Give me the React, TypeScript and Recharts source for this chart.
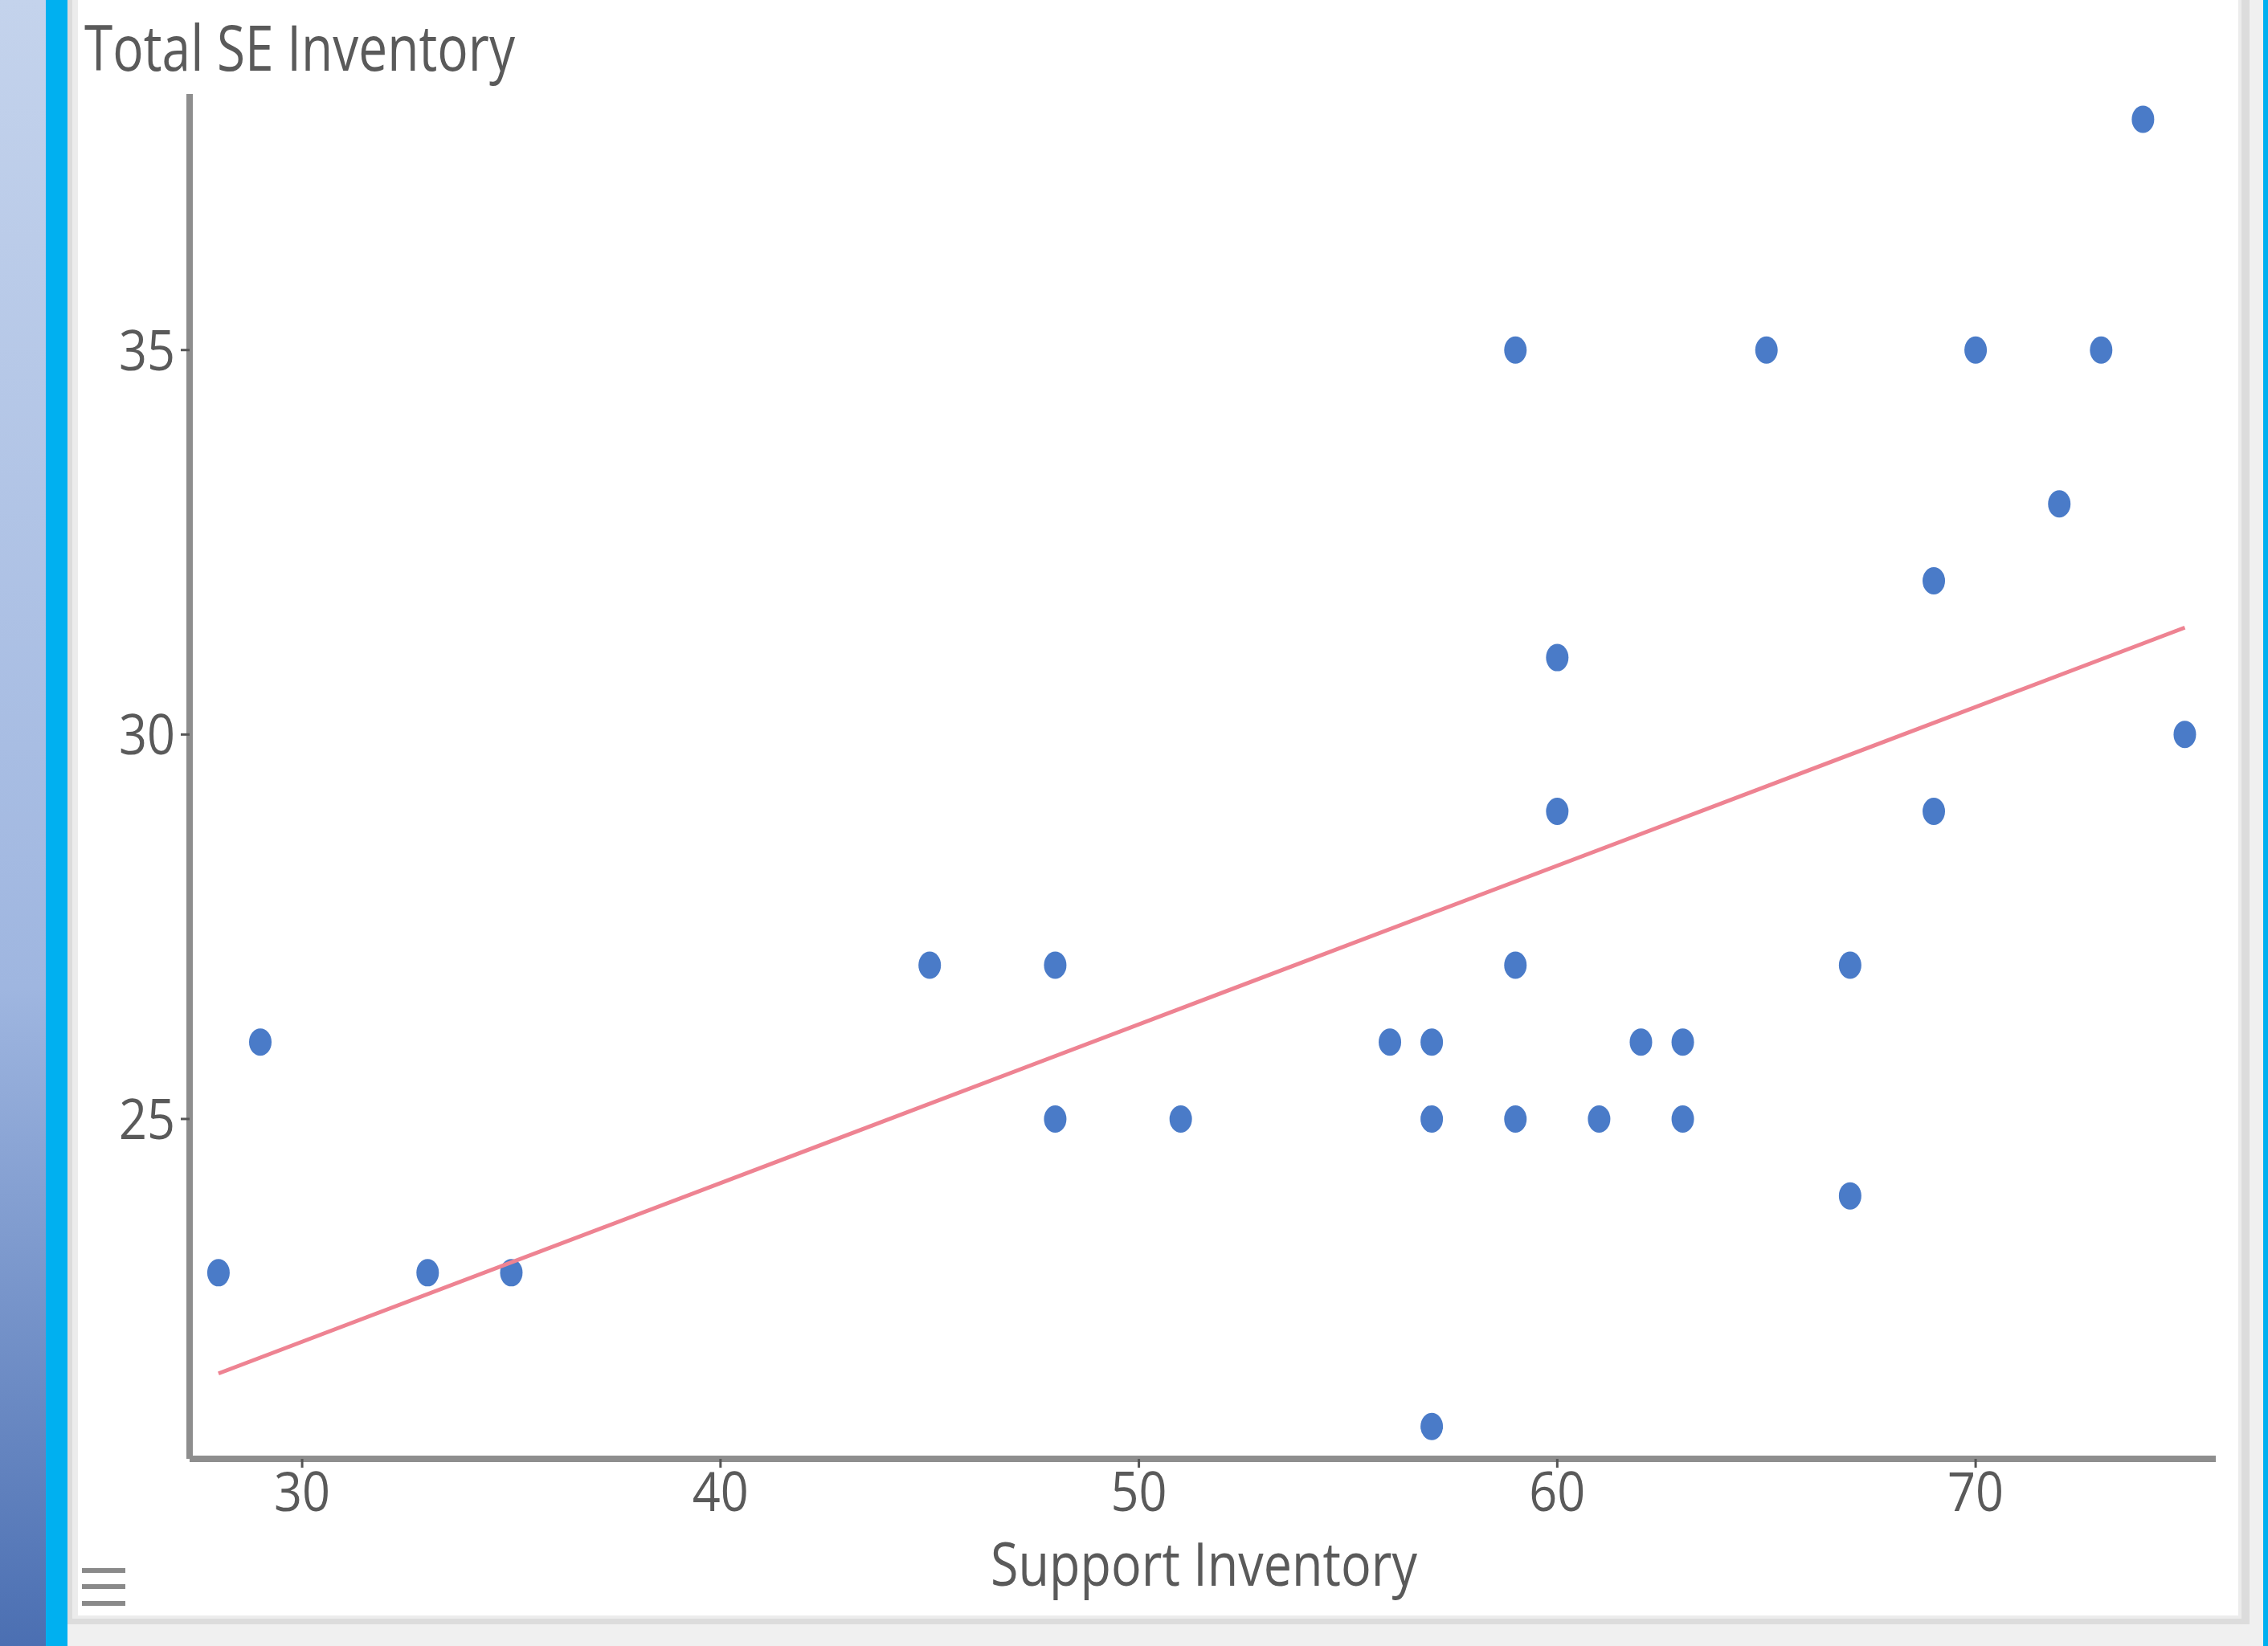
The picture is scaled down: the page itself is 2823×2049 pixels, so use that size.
import React from 'react'
import { ScatterChart, Scatter, XAxis, YAxis } from 'recharts'

// values
const supportInventory = [28, 29, 33, 35, 45, 48, 48, 51, 56, 57, 57, 57, 59, 59, 59, 60, 60, 61, 62, 63, 63, 65, 67, 67, 69, 69, 70, 72, 73, 74, 75]
const seInventory = [23, 26, 23, 23, 27, 27, 25, 25, 26, 26, 25, 21, 35, 27, 25, 31, 29, 25, 26, 26, 25, 35, 27, 24, 32, 29, 35, 33, 35, 38, 30]
const trendX = [28, 75]
const trendY = [21.69, 31.39]
const xTicks = [30, 40, 50, 60, 70]
const yTicks = [25, 30, 35]

const points = supportInventory.map((x, i) => ({ x, y: seInventory[i] }))
const trend = trendX.map((x, i) => ({ x, y: trendY[i] }))

const FONT = '"Open Sans", "Noto Sans", sans-serif'
const TEXT = '#5a5a5a'
const AXIS = '#8e8e8e'

const Dot = (props: any) => (
  <ellipse cx={props.cx} cy={props.cy} rx={14} ry={17} fill="#4a7bc8" />
)

const NoDot = () => <g />

const XTick = (props: any) => (
  <text x={props.x} y={props.y} dy={52} textAnchor="middle" fontFamily={FONT} fontSize={68}
    fill={TEXT} textLength={70} lengthAdjust="spacingAndGlyphs">
    {props.payload.value}
  </text>
)

const YTick = (props: any) => (
  <text x={props.x} y={props.y} dy={25} textAnchor="end" fontFamily={FONT} fontSize={70}
    fill={TEXT} textLength={70} lengthAdjust="spacingAndGlyphs">
    {props.payload.value}
  </text>
)

export default function App() {
  return (
    <div style={{ position: 'absolute', left: 0, top: 0, width: 2823, height: 2049, background: '#f0f0f0', overflow: 'hidden' }}>
      {/* left window chrome */}
      <div style={{ position: 'absolute', left: 0, top: 0, width: 57, height: 2049, background: 'linear-gradient(#c4d3ec, #9fb6e0 60%, #4b6fb2)' }} />
      <div style={{ position: 'absolute', left: 57, top: 0, width: 27, height: 2049, background: '#00b0f0' }} />
      <div style={{ position: 'absolute', left: 2817, top: 0, width: 6, height: 2049, background: '#00b0f0' }} />
      <div style={{ position: 'absolute', left: 84, top: 0, width: 2716, height: 2022, background: '#dcdcdc' }} />
      <div style={{ position: 'absolute', left: 90, top: 0, width: 2700, height: 2015, background: '#ececec' }} />
      <div style={{ position: 'absolute', left: 97, top: 0, width: 2689, height: 2011, background: '#ffffff' }} />

      <div style={{ position: 'absolute', left: 0, top: 0 }}>
        <ScatterChart width={2823} height={2049} margin={{ top: 117, right: 65, bottom: 133, left: 0 }}>
          <XAxis
            type="number"
            dataKey="x"
            domain={[27.31, 75.74]}
            ticks={xTicks}
            allowDataOverflow
            height={100}
            axisLine={{ stroke: AXIS, strokeWidth: 8 }}
            tickLine={{ stroke: '#555', strokeWidth: 3 }}
            tickSize={11}
            tickMargin={2}
            tick={<XTick />}
            label={{
              content: () => (
                <text x={1233} y={1974} fontFamily={FONT} fontSize={75} fill={TEXT}
                  textLength={531} lengthAdjust="spacingAndGlyphs">Support Inventory</text>
              ),
            }}
          />
          <YAxis
            type="number"
            dataKey="y"
            domain={[20.58, 38.33]}
            ticks={yTicks}
            allowDataOverflow
            width={236}
            axisLine={{ stroke: AXIS, strokeWidth: 8 }}
            tickLine={{ stroke: '#555', strokeWidth: 3 }}
            tickSize={11}
            tickMargin={7}
            tick={<YTick />}
            label={{
              content: () => (
                <text x={105} y={88} fontFamily={FONT} fontSize={78} fill={TEXT}
                  textLength={536} lengthAdjust="spacingAndGlyphs">Total SE Inventory</text>
              ),
            }}
          />
          <Scatter data={points} shape={<Dot />} isAnimationActive={false} />
          <Scatter
            data={trend}
            line={{ stroke: '#ee8392', strokeWidth: 5 }}
            shape={<NoDot />}
            isAnimationActive={false}
          />
        </ScatterChart>
      </div>

      {/* menu icon */}
      <div style={{ position: 'absolute', left: 102, top: 1952, width: 54, height: 6, background: '#8a8a8a' }} />
      <div style={{ position: 'absolute', left: 102, top: 1972, width: 54, height: 6, background: '#8a8a8a' }} />
      <div style={{ position: 'absolute', left: 102, top: 1993, width: 54, height: 6, background: '#8a8a8a' }} />
    </div>
  )
}
